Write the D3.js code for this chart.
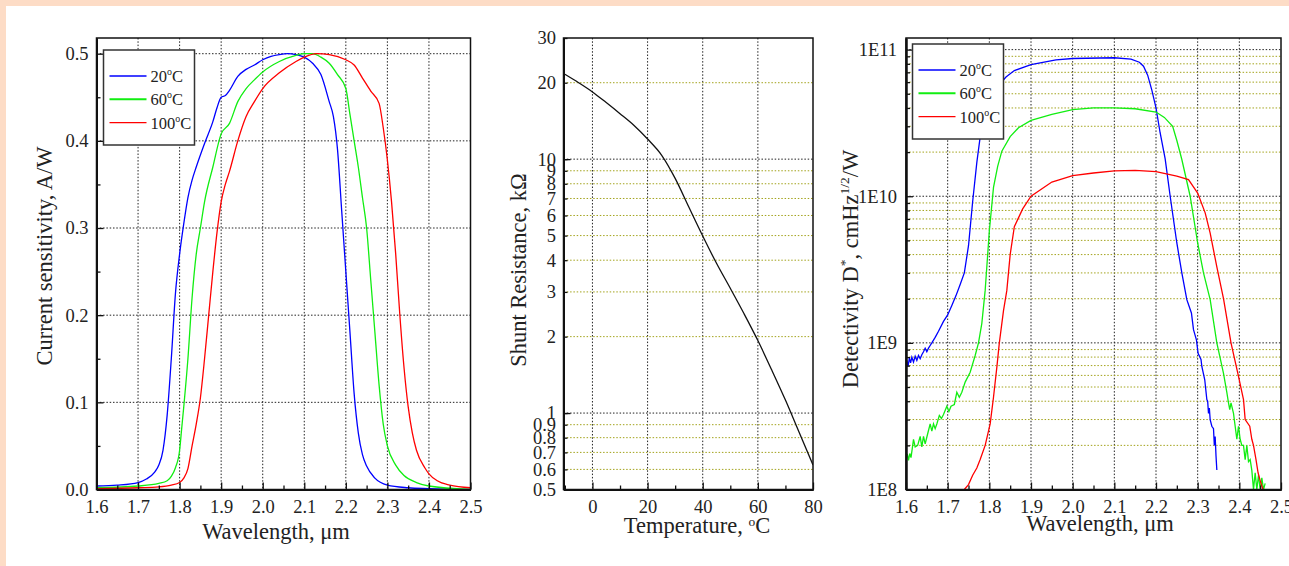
<!DOCTYPE html>
<html>
<head>
<meta charset="utf-8">
<script src="https://cdn.jsdelivr.net/npm/d3@7"></script>
<style>
body { margin: 0; background: #fff; }
svg { display: block; font-family: "Liberation Serif", "DejaVu Serif", serif; }
</style>
</head>
<body>
<svg id="chart"></svg>
<script>
// ---- current sensitivity (A/W) vs wavelength (um)
var wlBlue = [1.60,1.65,1.70,1.72,1.74,1.75,1.76,1.77,1.78,1.79,1.80,1.81,1.82,1.83,1.84,1.86,1.88,1.89,1.90,1.91,1.92,1.94,1.96,1.98,2.00,2.02,2.04,2.06,2.08,2.10,2.12,2.14,2.16,2.17,2.18,2.19,2.20,2.21,2.22,2.23,2.24,2.25,2.27,2.30,2.35,2.40,2.50];
var sensBlue = [0.004,0.005,0.008,0.012,0.020,0.028,0.045,0.085,0.150,0.225,0.270,0.305,0.335,0.355,0.370,0.397,0.422,0.438,0.450,0.452,0.458,0.474,0.482,0.487,0.493,0.497,0.499,0.500,0.499,0.496,0.489,0.476,0.445,0.428,0.390,0.320,0.250,0.180,0.110,0.065,0.040,0.027,0.013,0.005,0.002,0.001,0.000];
var wlGreen = [1.60,1.70,1.75,1.77,1.78,1.79,1.80,1.805,1.81,1.82,1.83,1.84,1.85,1.86,1.88,1.90,1.92,1.94,1.96,1.98,2.00,2.04,2.08,2.10,2.12,2.14,2.16,2.18,2.20,2.21,2.22,2.23,2.24,2.25,2.26,2.27,2.28,2.29,2.30,2.32,2.34,2.37,2.40,2.50];
var sensGreen = [0.002,0.004,0.007,0.010,0.015,0.025,0.045,0.070,0.095,0.150,0.220,0.270,0.300,0.330,0.370,0.408,0.420,0.445,0.460,0.470,0.479,0.491,0.498,0.500,0.500,0.496,0.489,0.476,0.460,0.430,0.400,0.370,0.335,0.300,0.240,0.180,0.120,0.075,0.050,0.028,0.016,0.008,0.004,0.000];
var wlRed = [1.60,1.70,1.75,1.78,1.80,1.81,1.82,1.83,1.84,1.85,1.86,1.87,1.88,1.89,1.90,1.91,1.92,1.94,1.96,1.98,2.00,2.04,2.08,2.10,2.13,2.16,2.20,2.22,2.24,2.26,2.28,2.29,2.30,2.31,2.32,2.33,2.34,2.35,2.36,2.37,2.39,2.40,2.42,2.45,2.50];
var sensRed = [0.001,0.002,0.003,0.005,0.008,0.013,0.024,0.050,0.075,0.105,0.150,0.200,0.250,0.295,0.330,0.350,0.365,0.400,0.428,0.445,0.460,0.478,0.491,0.496,0.500,0.499,0.493,0.487,0.472,0.457,0.443,0.415,0.378,0.330,0.270,0.200,0.140,0.095,0.065,0.045,0.025,0.018,0.010,0.005,0.002];

// ---- shunt resistance (kOhm) vs temperature (C)
var tempC = [-10,-5,0,5,10,15,20,25,30,35,40,45,50,55,60,65,70,75,80];
var rShunt = [21.6,20.0,18.4,16.7,15.1,13.6,12.0,10.4,8.4,6.46,4.98,3.89,3.1,2.46,1.93,1.48,1.125,0.838,0.625];

// ---- detectivity D* vs wavelength
var dWlBlue = [1.600,1.602,1.605,1.608,1.611,1.614,1.618,1.622,1.626,1.630,1.634,1.638,1.642,1.646,1.650,1.654,1.658,1.662,1.670,1.678,1.690,1.700,1.710,1.720,1.730,1.740,1.750,1.760,1.770,1.780,1.790,1.800,1.820,1.840,1.860,1.900,1.960,2.000,2.100,2.140,2.160,2.170,2.180,2.190,2.200,2.210,2.222,2.234,2.250,2.262,2.274,2.285,2.290,2.297,2.301,2.308,2.310,2.317,2.322,2.324,2.326,2.328,2.330,2.334,2.338,2.340,2.342,2.344,2.346];
var dBlue = [6.8e8,7.6e8,6.9e8,7.9e8,7.3e8,8.0e8,7.4e8,8.1e8,7.6e8,8.2e8,7.8e8,8.3e8,8.7e8,9.2e8,8.7e8,9.2e8,9.6e8,1.0e9,1.09e9,1.2e9,1.4e9,1.55e9,1.8e9,2.1e9,2.5e9,3.0e9,4.6e9,9.2e9,1.7e10,2.8e10,3.9e10,4.7e10,5.6e10,6.5e10,7.2e10,7.9e10,8.5e10,8.7e10,8.8e10,8.6e10,8.2e10,7.7e10,6.7e10,5.3e10,4.0e10,2.7e10,1.8e10,1.0e10,4.8e9,3.0e9,1.97e9,1.6e9,1.23e9,1.05e9,8.5e8,7.7e8,6.9e8,5.6e8,4.1e8,4.0e8,3.3e8,3.6e8,3.0e8,2.7e8,2.6e8,2.0e8,2.3e8,1.7e8,1.36e8];
var dWlGreen = [1.600,1.603,1.606,1.609,1.612,1.615,1.618,1.622,1.628,1.634,1.638,1.642,1.646,1.652,1.658,1.662,1.666,1.670,1.674,1.680,1.685,1.690,1.698,1.703,1.708,1.716,1.722,1.728,1.734,1.742,1.754,1.766,1.774,1.782,1.790,1.800,1.810,1.820,1.830,1.850,1.870,1.900,1.950,2.000,2.050,2.100,2.150,2.200,2.220,2.240,2.250,2.262,2.282,2.300,2.314,2.330,2.346,2.362,2.370,2.374,2.377,2.380,2.386,2.390,2.394,2.398,2.402,2.406,2.410,2.414,2.418,2.422,2.426,2.430,2.434,2.438,2.442,2.446,2.450,2.454,2.458,2.462];
var dGreen = [1.6e8,1.75e8,1.58e8,1.76e8,1.65e8,1.9e8,2.2e8,1.95e8,2.0e8,2.3e8,1.95e8,2.3e8,2.05e8,2.4e8,2.8e8,2.5e8,2.8e8,2.6e8,2.8e8,3.2e8,3.05e8,3.25e8,3.7e8,3.4e8,3.7e8,3.8e8,4.6e8,4.25e8,4.6e8,5.4e8,6.3e8,8.2e8,1.0e9,1.36e9,2.28e9,5.8e9,1.15e10,1.6e10,2.03e10,2.55e10,2.93e10,3.29e10,3.62e10,3.9e10,4.0e10,4.0e10,3.95e10,3.75e10,3.45e10,3.0e10,2.4e10,1.78e10,1.0e10,4.8e9,3.0e9,1.97e9,1.0e9,6.2e8,4.6e8,3.9e8,3.5e8,3.9e8,3.3e8,2.7e8,2.2e8,2.7e8,2.2e8,2.0e8,2.0e8,1.6e8,2.0e8,1.55e8,1.6e8,1.35e8,1.0e8,1.3e8,1.0e8,1.25e8,1.0e8,1.2e8,1.0e8,1.1e8];
var dWlRed = [1.740,1.750,1.760,1.770,1.778,1.790,1.802,1.810,1.818,1.824,1.834,1.842,1.850,1.860,1.880,1.900,1.950,2.000,2.050,2.100,2.150,2.200,2.250,2.278,2.300,2.318,2.330,2.346,2.362,2.380,2.398,2.410,2.414,2.425,2.430,2.434,2.440,2.445,2.450,2.457];
var dRed = [1.0e8,1.08e8,1.25e8,1.4e8,1.6e8,2.0e8,2.8e8,4.26e8,6.8e8,1.0e9,1.66e9,2.28e9,4.0e9,6.2e9,8.2e9,1.0e10,1.25e10,1.38e10,1.44e10,1.49e10,1.5e10,1.47e10,1.37e10,1.3e10,1.05e10,7.7e9,5.6e9,3.3e9,2.0e9,1.0e9,5.9e8,4.1e8,3.0e8,2.7e8,2.2e8,2.0e8,1.6e8,1.3e8,1.15e8,1.0e8];

// ---- ticks and labels
var wlTicks = [1.6,1.7,1.8,1.9,2.0,2.1,2.2,2.3,2.4,2.5];
var sensTicks = [0,0.1,0.2,0.3,0.4,0.5];
var tempTicks = [0,20,40,60,80];
var rTicks = [0.5,0.6,0.7,0.8,0.9,1,2,3,4,5,6,7,8,9,10,20,30];
var dTicks = [1e8,1e9,1e10,1e11];
var legendTemps = ["20", "60", "100"];
var seriesColors = ["#0000ff", "#11ee11", "#ff0000"];

var W = 1289, H = 566;
var svg = d3.select("#chart").attr("width", W).attr("height", H);

svg.append("rect").attr("width", W).attr("height", H).attr("fill", "#fddcc6");
svg.append("rect").attr("x", 6).attr("y", 6).attr("width", W - 6).attr("height", H - 6).attr("fill", "#fff");

function zip(xs, ys) {
	return xs.map(function (d, i) { return [d, ys[i]]; });
}

function clip(id, box) {
	svg.append("clipPath").attr("id", id).append("rect")
		.attr("x", box.left).attr("y", box.top)
		.attr("width", box.right - box.left).attr("height", box.bottom - box.top);
}

function vgrid(g, x, vals, box) {
	g.selectAll(null).data(vals).enter().append("line")
		.attr("x1", function (d) { return x(d); }).attr("x2", function (d) { return x(d); })
		.attr("y1", box.top).attr("y2", box.bottom)
		.attr("stroke", "#222").attr("stroke-width", 1).attr("stroke-dasharray", "1.5,1.8");
}

function hgrid(g, y, vals, box, color) {
	g.selectAll(null).data(vals).enter().append("line")
		.attr("y1", function (d) { return y(d); }).attr("y2", function (d) { return y(d); })
		.attr("x1", box.left).attr("x2", box.right)
		.attr("stroke", color).attr("stroke-width", 1).attr("stroke-dasharray", "1.5,1.8");
}

function styleAxis(a) {
	a.attr("font-family", null).attr("font-size", 18.5);
	a.select(".domain").attr("stroke", "#111").attr("stroke-width", 2);
	a.selectAll(".tick line").attr("stroke", "#111").attr("stroke-width", 1.3);
	a.selectAll("text").attr("fill", "#222");
}

function frame(box) {
	svg.append("rect")
		.attr("x", box.left).attr("y", box.top)
		.attr("width", box.right - box.left).attr("height", box.bottom - box.top)
		.attr("fill", "none").attr("stroke", "#111").attr("stroke-width", 1.5);
}

function axes(box, x, y, o) {
	var b = svg.append("g").attr("transform", "translate(0," + box.bottom + ")");
	b.append("g").call(d3.axisBottom(x).tickValues(o.xMinor).tickSize(-4).tickSizeOuter(0).tickFormat("")).call(styleAxis);
	b.append("g").call(d3.axisBottom(x).tickValues(o.xMajor).tickSize(-7).tickSizeOuter(0).tickPadding(10).tickFormat(o.xFmt)).call(styleAxis);
	var l = svg.append("g").attr("transform", "translate(" + box.left + ",0)");
	l.append("g").call(d3.axisLeft(y).tickValues(o.yMinor).tickSize(-4).tickSizeOuter(0).tickPadding(o.yPad).tickFormat(o.yMinorFmt)).call(styleAxis);
	l.append("g").call(d3.axisLeft(y).tickValues(o.yMajor).tickSize(-7).tickSizeOuter(0).tickPadding(o.yPad).tickFormat(o.yFmt)).call(styleAxis);
	frame(box);
}

function degree(t, pre) {
	t.append("tspan").text(pre);
	t.append("tspan").attr("font-size", "0.6em").attr("dy", -7).text("o");
	t.append("tspan").attr("dy", 7).text("C");
}

function legend(box, colors) {
	var g = svg.append("g");
	g.append("rect").attr("x", box.x).attr("y", box.y).attr("width", box.w).attr("height", box.h)
		.attr("fill", "#fff").attr("stroke", "#333").attr("stroke-width", 1.5);
	legendTemps.forEach(function (t, i) {
		var yy = box.y + 26 + i * 23.3;
		g.append("line").attr("x1", box.x + 6).attr("x2", box.x + 43).attr("y1", yy).attr("y2", yy)
			.attr("stroke", colors[i]).attr("stroke-width", i === 1 ? 2 : 1.4);
		var txt = g.append("text").attr("x", box.x + 47).attr("y", yy + 6)
			.attr("font-size", 16.5).attr("fill", "#222");
		degree(txt, t);
	});
}

function title(x, y, rot) {
	var t = svg.append("text").attr("font-size", 22.5).attr("fill", "#222").attr("text-anchor", "middle");
	if (rot) t.attr("transform", "translate(" + x + "," + y + ") rotate(-90)");
	else t.attr("x", x).attr("y", y);
	return t;
}

// ================= panel 1: current sensitivity
var b1 = {left: 96.5, right: 470.5, top: 38, bottom: 489.5};
var x1 = d3.scaleLinear().domain([1.6, 2.5]).range([b1.left, b1.right]);
var y1 = d3.scaleLinear().domain([0, 0.518]).range([b1.bottom, b1.top]);
clip("c1", b1);
var g1 = svg.append("g");
vgrid(g1, x1, wlTicks.slice(1, -1), b1);
hgrid(g1, y1, sensTicks.slice(1), b1, "#222");
var line1 = d3.line().x(function (d) { return x1(d[0]); }).y(function (d) { return y1(d[1]); }).curve(d3.curveMonotoneX);
var sens = [zip(wlBlue, sensBlue), zip(wlGreen, sensGreen), zip(wlRed, sensRed)];
g1.append("g").attr("clip-path", "url(#c1)").selectAll("path").data(sens).enter().append("path")
	.attr("d", line1).attr("fill", "none")
	.attr("stroke", function (d, i) { return seriesColors[i]; }).attr("stroke-width", 1.3);
axes(b1, x1, y1, {
	xMajor: wlTicks, xMinor: d3.range(1.65, 2.5, 0.1), xFmt: d3.format(".1f"),
	yMajor: sensTicks, yMinor: d3.range(0.05, 0.5, 0.1), yFmt: d3.format(".1f"), yMinorFmt: "", yPad: 8
});
legend({x: 103.5, y: 50, w: 91, h: 95}, seriesColors);
title(52, 256, true).text("Current sensitivity, A/W");
title(276, 539, false).text("Wavelength, \u03bcm");

// ================= panel 2: shunt resistance
var b2 = {left: 563.5, right: 813, top: 38, bottom: 489.5};
var x2 = d3.scaleLinear().domain([-10.5, 80]).range([b2.left, b2.right]);
var y2 = d3.scaleLog().domain([0.5, 30]).range([b2.bottom, b2.top]);
clip("c2", b2);
var g2 = svg.append("g");
vgrid(g2, x2, tempTicks.slice(0, -1), b2);
hgrid(g2, y2, rTicks.filter(function (d) { return d !== 0.5 && d !== 30 && d !== 1 && d !== 10; }), b2, "#a3a31c");
hgrid(g2, y2, [1, 10], b2, "#222");
var line2 = d3.line().x(function (d) { return x2(d[0]); }).y(function (d) { return y2(d[1]); }).curve(d3.curveMonotoneX);
g2.append("path").attr("clip-path", "url(#c2)").datum(zip(tempC, rShunt))
	.attr("d", line2).attr("fill", "none").attr("stroke", "#111").attr("stroke-width", 1.3);
axes(b2, x2, y2, {
	xMajor: tempTicks, xMinor: [-10, 10, 30, 50, 70], xFmt: d3.format("d"),
	yMajor: [1, 10], yMinor: rTicks, yFmt: "", yMinorFmt: function (d) { return String(d); }, yPad: 7.5
});
title(526, 270, true).text("Shunt Resistance, k\u03a9");
degree(title(697, 533, false), "Temperature, ");

// ================= panel 3: detectivity
var b3 = {left: 906, right: 1281, top: 38, bottom: 489.5};
var x3 = d3.scaleLinear().domain([1.6, 2.5]).range([b3.left, b3.right]);
var y3 = d3.scaleLog().domain([1e8, 1.2e11]).range([b3.bottom, b3.top]);
clip("c3", b3);
var g3 = svg.append("g");
var dMinor = [];
[1e8, 1e9, 1e10].forEach(function (dec) {
	for (var k = 2; k <= 9; k++) dMinor.push(k * dec);
});
vgrid(g3, x3, wlTicks.slice(1, -1), b3);
hgrid(g3, y3, dMinor, b3, "#a3a31c");
hgrid(g3, y3, dTicks.slice(1), b3, "#222");
var line3 = d3.line().x(function (d) { return x3(d[0]); }).y(function (d) { return y3(d[1]); });
var dets = [zip(dWlBlue, dBlue), zip(dWlGreen, dGreen), zip(dWlRed, dRed)];
g3.append("g").attr("clip-path", "url(#c3)").selectAll("path").data(dets).enter().append("path")
	.attr("d", line3).attr("fill", "none")
	.attr("stroke", function (d, i) { return seriesColors[i]; }).attr("stroke-width", 1.3);
axes(b3, x3, y3, {
	xMajor: wlTicks, xMinor: d3.range(1.65, 2.5, 0.1), xFmt: d3.format(".1f"),
	yMajor: dTicks, yMinor: dMinor, yFmt: function (d) { return "1E" + Math.round(Math.log10(d)); }, yMinorFmt: "", yPad: 9
});
legend({x: 912.5, y: 44, w: 91, h: 95}, seriesColors);
var t3 = title(858, 269, true);
t3.append("tspan").text("Detectivity D");
t3.append("tspan").attr("font-size", "0.6em").attr("dy", -9).text("*");
t3.append("tspan").attr("dy", 9).text(", cmHz");
t3.append("tspan").attr("font-size", "0.6em").attr("dy", -9).text("1/2");
t3.append("tspan").attr("dy", 9).text("/W");
title(1100, 531, false).text("Wavelength, \u03bcm");
</script>
</body>
</html>
